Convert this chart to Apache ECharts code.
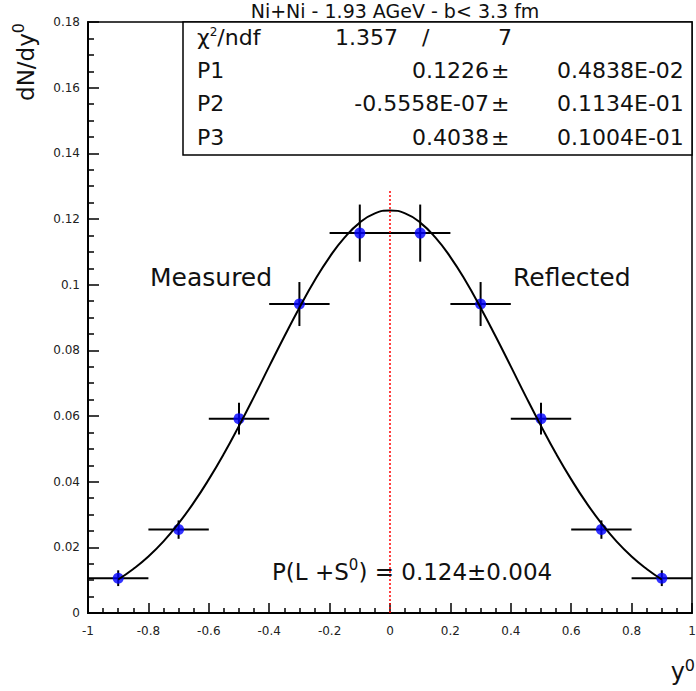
<!DOCTYPE html>
<html>
<head>
<meta charset="utf-8">
<script src="https://cdn.jsdelivr.net/npm/echarts@6/dist/echarts.min.js"></script>
<style>html,body{margin:0;padding:0;background:#fff;overflow:hidden}#c{width:696px;height:691px}</style>
</head>
<body>
<div id="c"></div>
<script>
// ---- data ----
const pointX = [-0.9, -0.7, -0.5, -0.3, -0.1, 0.1, 0.3, 0.5, 0.7, 0.9];
const pointY = [0.0106, 0.0254, 0.0592, 0.0941, 0.1157, 0.1157, 0.0941, 0.0592, 0.0254, 0.0106];
const xErr = [0.1, 0.1, 0.1, 0.1, 0.1, 0.1, 0.1, 0.1, 0.1, 0.1];
const yErr = [0.0024, 0.0028, 0.0048, 0.0067, 0.0087, 0.0087, 0.0067, 0.0048, 0.0028, 0.0024];

const fitX = [-0.9, -0.85, -0.8, -0.75, -0.7, -0.65, -0.6, -0.55, -0.5, -0.45, -0.4, -0.35, -0.3, -0.25, -0.2, -0.15, -0.1, -0.05,
              0, 0.05, 0.1, 0.15, 0.2, 0.25, 0.3, 0.35, 0.4, 0.45, 0.5, 0.55, 0.6, 0.65, 0.7, 0.75, 0.8, 0.85, 0.9];
const fitY = [0.0102, 0.0134, 0.0172, 0.0218, 0.0273, 0.0336, 0.0407, 0.0485, 0.0570, 0.0659, 0.0751, 0.0842, 0.0930, 0.1012, 0.1084, 0.1144, 0.1189, 0.1217,
              0.1226, 0.1217, 0.1189, 0.1144, 0.1084, 0.1012, 0.0930, 0.0842, 0.0751, 0.0659, 0.0570, 0.0485, 0.0407, 0.0336, 0.0273, 0.0218, 0.0172, 0.0134, 0.0102];

const refLineX = [0, 0];
const refLineY = [0, 0.129];

const xTicks = {min: -1, max: 1, step: 0.2};
const yTicks = {min: 0, max: 0.18, step: 0.02};

const titleText = 'Ni+Ni - 1.93 AGeV - b< 3.3 fm';
const statRows = [
  ['P1', '0.1226', '0.4838E-02'],
  ['P2', '-0.5558E-07', '0.1134E-01'],
  ['P3', '0.4038', '0.1004E-01']
];
const chiText = ['1.357', '/', '7'];

// ---- build ----
const FONT = 'DejaVu Sans';
const errData = pointX.map((x, i) => [x, pointY[i], xErr[i], yErr[i]]);
const ptData = pointX.map((x, i) => [x, pointY[i]]);
const fitData = fitX.map((x, i) => [x, fitY[i]]);
const refData = refLineX.map((x, i) => [x, refLineY[i]]);

const chart = echarts.init(document.getElementById('c'), null, {renderer: 'svg', width: 696, height: 691});

const graphics = [];
// stat box
graphics.push({type: 'rect', z: 100, shape: {x: 183, y: 22, width: 509, height: 133},
  style: {fill: '#fff', stroke: '#000', lineWidth: 1.5}});
const rowY = [37, 70, 103, 137];
const SF = 22;
function txt(text, x, y, align, size, extra) {
  return Object.assign({type: 'text', z: 101, x: x, y: y,
    style: {text: text, font: size + 'px "' + FONT + '"', fill: '#111', textAlign: align, textVerticalAlign: 'middle'}}, extra || {});
}
graphics.push({type: 'text', z: 101, x: 197, y: rowY[0], style: {
  text: '{g|χ}{s|2}{g|/ndf}', textVerticalAlign: 'middle', fill: '#111',
  rich: {g: {font: SF + 'px "' + FONT + '"', fill: '#111'}, s: {font: '12px "' + FONT + '"', fill: '#111', verticalAlign: 'top', padding: [0, 0, 10, 0]}}}});
graphics.push(txt(chiText[0], 335, rowY[0], 'left', SF));
graphics.push(txt(chiText[1], 422, rowY[0], 'left', SF));
graphics.push(txt(chiText[2], 498, rowY[0], 'left', SF));
statRows.forEach((r, i) => {
  const y = rowY[i + 1];
  graphics.push(txt(r[0], 197, y, 'left', SF));
  graphics.push(txt(r[1], 489, y, 'right', SF));
  graphics.push(txt('±', 491, y, 'left', SF));
  graphics.push(txt(r[2], 557, y, 'left', SF));
});
// title
graphics.push(txt(titleText, 395, 11, 'center', 19));
// annotations
graphics.push(txt('Measured', 150, 277, 'left', 25));
graphics.push(txt('Reflected', 513, 277, 'left', 25));
graphics.push({type: 'text', z: 101, x: 272, y: 572, style: {
  text: '{g|P(L +S}{s|0}{g|) = 0.124±0.004}', textVerticalAlign: 'middle', fill: '#111',
  rich: {g: {font: '23px "' + FONT + '"', fill: '#111'}, s: {font: '15px "' + FONT + '"', fill: '#111', verticalAlign: 'top', padding: [0, 0, 14, 0]}}}});
// axis titles
graphics.push({type: 'text', z: 101, x: 26, y: 62, rotation: Math.PI / 2, style: {
  text: '{g|dN/dy}{s|0}', textAlign: 'center', textVerticalAlign: 'middle', fill: '#111',
  rich: {g: {font: '23px "' + FONT + '"', fill: '#111'}, s: {font: '16px "' + FONT + '"', fill: '#111', verticalAlign: 'top', padding: [0, 0, 16, 0]}}}});
graphics.push({type: 'text', z: 101, x: 695, y: 672, style: {
  text: '{g|y}{s|0}', textAlign: 'right', textVerticalAlign: 'middle', fill: '#111',
  rich: {g: {font: '24px "' + FONT + '"', fill: '#111'}, s: {font: '16px "' + FONT + '"', fill: '#111', verticalAlign: 'top', padding: [0, 0, 14, 0]}}}});

const option = {
  animation: false,
  backgroundColor: '#fff',
  grid: {left: 88, right: 4, top: 22, bottom: 78, outerBoundsMode: 'none', containLabel: false,
    show: true, borderColor: '#000', borderWidth: 1.5, backgroundColor: 'transparent'},
  xAxis: {
    type: 'value', min: xTicks.min, max: xTicks.max, interval: xTicks.step,
    axisLine: {onZero: false, lineStyle: {color: '#000', width: 2}},
    axisTick: {inside: true, length: 10, lineStyle: {color: '#000', width: 1.5}},
    minorTick: {show: true, splitNumber: 4, length: 5, lineStyle: {color: '#000', width: 1.5}},
    splitLine: {show: false},
    axisLabel: {margin: 12, fontFamily: FONT, fontSize: 12, color: '#222',
      formatter: v => String(Math.round(v * 10) / 10)}
  },
  yAxis: {
    type: 'value', min: yTicks.min, max: yTicks.max, interval: yTicks.step,
    axisLine: {onZero: false, lineStyle: {color: '#000', width: 2}},
    axisTick: {inside: true, length: 11, lineStyle: {color: '#000', width: 1.5}},
    minorTick: {show: true, splitNumber: 4, length: 6, lineStyle: {color: '#000', width: 1.5}},
    splitLine: {show: false},
    axisLabel: {margin: 8, fontFamily: FONT, fontSize: 12, color: '#222',
      formatter: v => String(Math.round(v * 100) / 100)}
  },
  series: [
    {
      type: 'custom', z: 2, data: errData, encode: {x: 0, y: 1},
      renderItem: function (params, api) {
        const x = api.value(0), y = api.value(1), ex = api.value(2), ey = api.value(3);
        const l = api.coord([x - ex, y]), r = api.coord([x + ex, y]);
        const t = api.coord([x, y + ey]), b = api.coord([x, y - ey]);
        return {type: 'group', children: [
          {type: 'line', shape: {x1: l[0], y1: l[1], x2: r[0], y2: r[1]}, style: {stroke: '#000', lineWidth: 2}},
          {type: 'line', shape: {x1: t[0], y1: t[1], x2: b[0], y2: b[1]}, style: {stroke: '#000', lineWidth: 2}}
        ]};
      }
    },
    {type: 'scatter', z: 3, data: ptData, symbol: 'circle', symbolSize: 11, itemStyle: {color: '#0000ff'}},
    {type: 'line', z: 4, data: fitData, smooth: true, showSymbol: false, symbol: 'none',
      lineStyle: {color: '#000', width: 2}},
    {type: 'line', z: 5, data: refData, showSymbol: false, symbol: 'none',
      lineStyle: {color: '#ff0000', width: 1.5, type: [2, 2]}}
  ],
  graphic: graphics
};
chart.setOption(option);
</script>
</body>
</html>
